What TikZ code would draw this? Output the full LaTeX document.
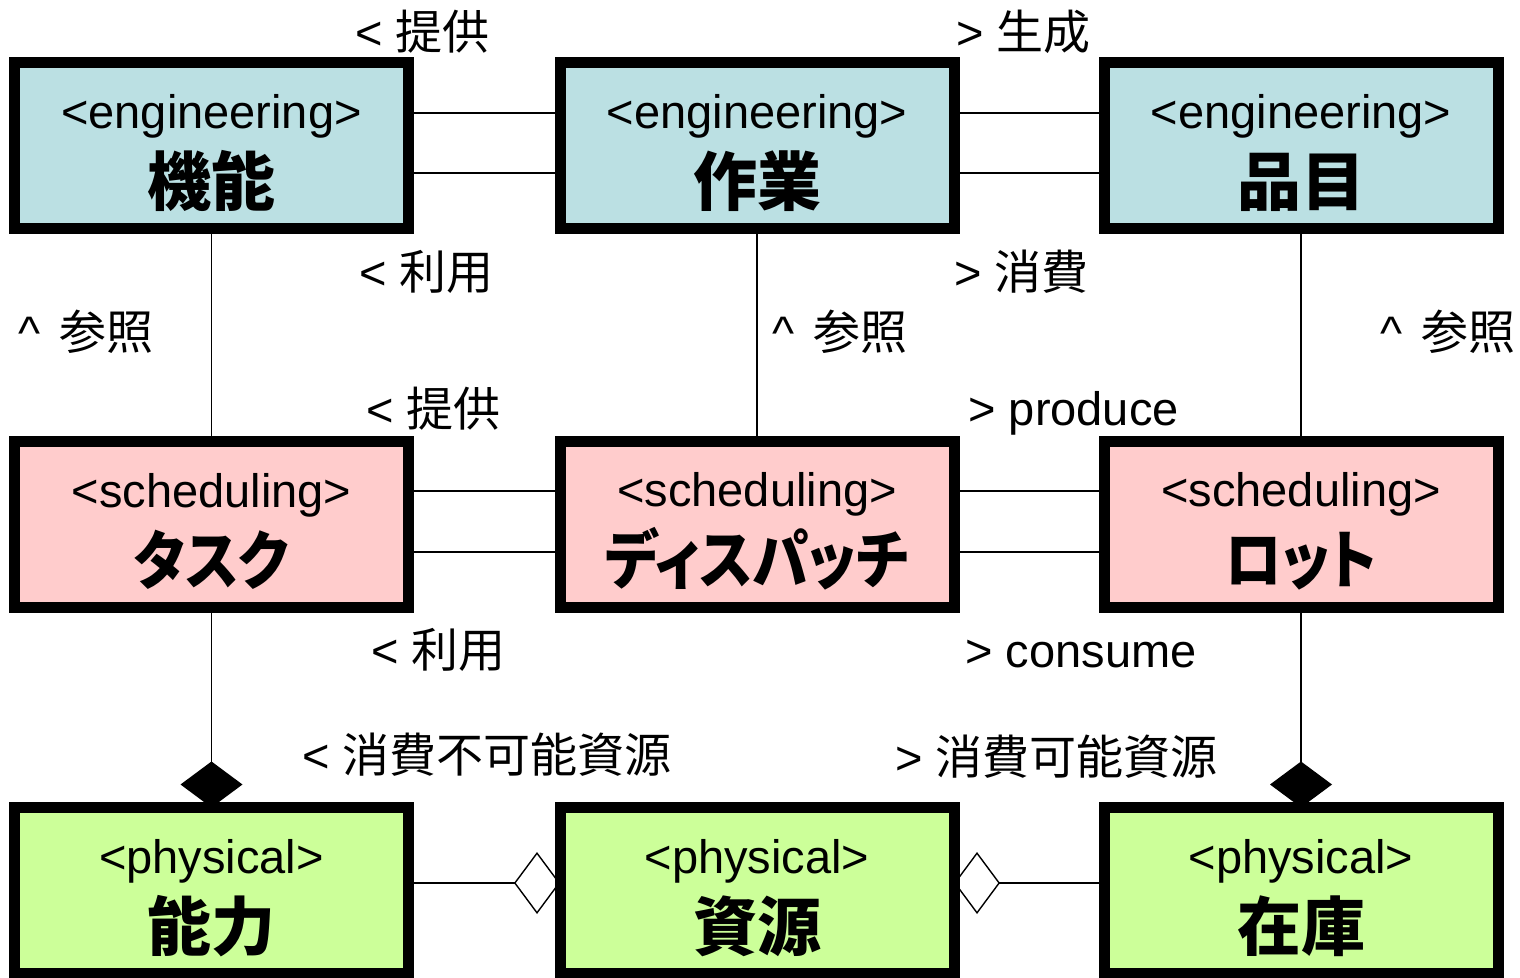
\documentclass[tikz,border=0pt]{standalone}
\usepackage{fontspec}
\setmainfont{Liberation Sans}
\newfontfamily\jp{Noto Sans CJK JP}
\newfontfamily\jpkana[RawFeature=+palt,FakeStretch=0.88]{Noto Sans CJK JP}
\usepackage{xcolor}
\usetikzlibrary{arrows.meta,calc}
\definecolor{engblue}{HTML}{BBE0E3}
\definecolor{schedpink}{HTML}{FFCCCC}
\definecolor{physgreen}{HTML}{CCFF99}
\tikzset{
	klasse/.style={
			draw=black, line width=5.5pt, outer sep=0pt, inner sep=0pt,
			minimum width=197pt, minimum height=83pt, align=center,
			font=\fontsize{23.5}{38.5}\selectfont
		},
	rolle/.style={anchor=base west, inner sep=0pt, font=\fontsize{23.5}{28}\selectfont},
	verb/.style={line width=0.7pt},
	komp/.style={line width=0.7pt, -{Diamond[length=23pt,width=31pt]}},
	aggr/.style={line width=0.7pt, -{Diamond[open,length=23pt,width=31pt]}}
}
\newcommand{\kopf}[1]{\rule{0pt}{24.3pt}<#1>}
\newcommand{\titel}[1]{{\fontsize{32}{38.5}\selectfont\jp\bfseries #1}}
\newcommand{\kana}[1]{{\fontsize{32}{38.5}\selectfont\jpkana\bfseries #1}}

\begin{document}
\begin{tikzpicture}[x=0.5pt,y=-0.5pt]
        \useasboundingbox (0,0) rectangle (1520,978);
        % Klassen zeichnen
        \node[klasse, fill=engblue] (func) at (211.5,145.5) {\kopf{engineering}\\\titel{機能}};
        \node[klasse, fill=engblue] (work) at (757,145.5) {\kopf{engineering}\\\titel{作業}};
        \node[klasse, fill=engblue] (item) at (1301,145.5) {\kopf{engineering}\\\titel{品目}};
        \node[klasse, fill=schedpink] (task) at (211.5,524.5) {\kopf{scheduling}\\\kana{タスク}};
        \node[klasse, fill=schedpink] (dispatch) at (757,524.5) {\kopf{scheduling}\\\kana{ディスパッチ}};
        \node[klasse, fill=schedpink] (lot) at (1301,524.5) {\kopf{scheduling}\\\kana{ロット}};
        \node[klasse, fill=physgreen] (capa) at (211.5,890.5) {\kopf{physical}\\\titel{能力}};
        \node[klasse, fill=physgreen] (res) at (757,890.5) {\kopf{physical}\\\titel{資源}};
        \node[klasse, fill=physgreen] (stock) at (1301,890.5) {\kopf{physical}\\\titel{在庫}};
        % Beziehungen zeichnen
        \draw[verb] ([yshift=16.25pt]func.east) -- ([yshift=16.25pt]work.west);
        \draw[verb] ([yshift=-13.75pt]func.east) -- ([yshift=-13.75pt]work.west);
        \draw[verb] ([yshift=16.25pt]work.east) -- ([yshift=16.25pt]item.west);
        \draw[verb] ([yshift=-13.75pt]work.east) -- ([yshift=-13.75pt]item.west);
        \draw[verb] ([yshift=16.75pt]task.east) -- ([yshift=16.75pt]dispatch.west);
        \draw[verb] ([yshift=-13.75pt]task.east) -- ([yshift=-13.75pt]dispatch.west);
        \draw[verb] ([yshift=16.75pt]dispatch.east) -- ([yshift=16.75pt]lot.west);
        \draw[verb] ([yshift=-13.75pt]dispatch.east) -- ([yshift=-13.75pt]lot.west);
        \draw[verb] (func) -- (task);
        \draw[verb] (work) -- (dispatch);
        \draw[verb] (item) -- (lot);
        \draw[komp] (task) -- (capa);
        \draw[komp] (lot) -- (stock);
        \draw[aggr] ([yshift=3.75pt]capa.east) -- ([yshift=3.75pt]res.west);
        \draw[aggr] ([yshift=3.75pt]stock.west) -- ([yshift=3.75pt]res.east);
        % Rollennamen
        \node[rolle] (r1) at (355,50) {< {\jp 提供}};
        \node[rolle] (r2) at (956,50) {> {\jp 生成}};
        \node[rolle] (r3) at (359,290) {< {\jp 利用}};
        \node[rolle] (r4) at (954,290) {> {\jp 消費}};
        \node[rolle] (r5) at (18,350) {\textasciicircum\hspace{0.4em}{\jp 参照}};
        \node[rolle] (r6) at (772,350) {\textasciicircum\hspace{0.4em}{\jp 参照}};
        \node[rolle] (r7) at (1380,350) {\textasciicircum\hspace{0.4em}{\jp 参照}};
        \node[rolle] (r8) at (366,427) {< {\jp 提供}};
        \node[rolle] (r9) at (968,426) {> produce};
        \node[rolle] (r10) at (371,667) {< {\jp 利用}};
        \node[rolle] (r11) at (965,667) {> consume};
        \node[rolle] (r12) at (302,772) {< {\jp 消費不可能資源}};
        \node[rolle] (r13) at (895,774) {> {\jp 消費可能資源}};
\end{tikzpicture}
\end{document}
